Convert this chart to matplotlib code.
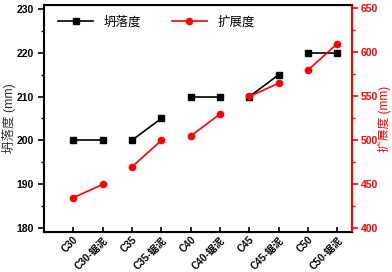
import numpy as np
import matplotlib.pyplot as plt
import matplotlib.transforms as mtransforms
from matplotlib.ticker import MultipleLocator

plt.rcParams['font.family'] = ['Liberation Sans', 'Noto Sans CJK SC', 'DejaVu Sans']

categories = ['C30', 'C30-锯泥', 'C35', 'C35-锯泥', 'C40', 'C40-锯泥',
              'C45', 'C45-锯泥', 'C50', 'C50-锯泥']
slump = [200, 200, 200, 205, 210, 210, 210, 215, 220, 220]
spread = [435, 450, 470, 500, 505, 530, 550, 565, 580, 610]

x = np.arange(len(categories))

fig = plt.figure(figsize=(3.92, 2.72), dpi=100)
ax = fig.add_axes([0.112, 0.147, 0.786, 0.835])
ax2 = ax.twinx()

# draw pairs as separate segments
for i in range(0, len(x), 2):
    l1, = ax.plot(x[i:i+2], slump[i:i+2], color='black', marker='s', ms=4, lw=1.2)
    l2, = ax2.plot(x[i:i+2], spread[i:i+2], color='red', marker='o', ms=4.5, lw=1.2)

ax.set_xlim(-1, 9.5)
ax.set_ylim(179, 231)
ax2.set_ylim(396, 654)

ax.set_xticks(x)
ax.set_xticklabels(categories, rotation=45, ha='right', rotation_mode='anchor',
                   fontsize=7.2, fontweight='bold')
shift = mtransforms.ScaledTranslation(5 / 100, 0, fig.dpi_scale_trans)
for t in ax.get_xticklabels():
    t.set_transform(t.get_transform() + shift)
ax.tick_params(axis='x', direction='in', length=3.5, width=1.2, pad=2)
ax.yaxis.set_major_locator(MultipleLocator(10))
ax.yaxis.set_minor_locator(MultipleLocator(5))
ax.tick_params(axis='y', which='major', direction='out', length=4, width=1.2, labelsize=7.5)
ax.tick_params(axis='y', which='minor', direction='out', length=2.5, width=1)
for t in ax.get_yticklabels():
    t.set_fontweight('bold')

ax2.yaxis.set_major_locator(MultipleLocator(50))
ax2.yaxis.set_minor_locator(MultipleLocator(25))
ax2.tick_params(axis='y', which='major', direction='out', length=4, width=1.2,
                colors='red', labelsize=7.5, pad=2.5)
ax2.tick_params(axis='y', which='minor', direction='out', length=2.5, width=1, colors='red')
for t in ax2.get_yticklabels():
    t.set_fontweight('bold')

for sp in ['left', 'bottom', 'top']:
    ax.spines[sp].set_linewidth(1.5)
ax2.spines['right'].set_color('red')
ax2.spines['right'].set_linewidth(1.5)
ax2.spines['left'].set_visible(False)

ax.set_ylabel('坍落度 (mm)', fontsize=9, color='#333333')
ax.yaxis.set_label_coords(-0.092, 0.5)
ax2.set_ylabel('扩展度 (mm)', fontsize=8.5, color='red')
ax2.yaxis.set_label_coords(1.085, 0.5)

ax.legend([l1, l2], ['坍落度', '扩展度'], loc='upper left', ncol=2, frameon=False,
          fontsize=9, handlelength=2.8, columnspacing=2.5, bbox_to_anchor=(0.01, 1.0))

fig.savefig('out.png', dpi=100)
